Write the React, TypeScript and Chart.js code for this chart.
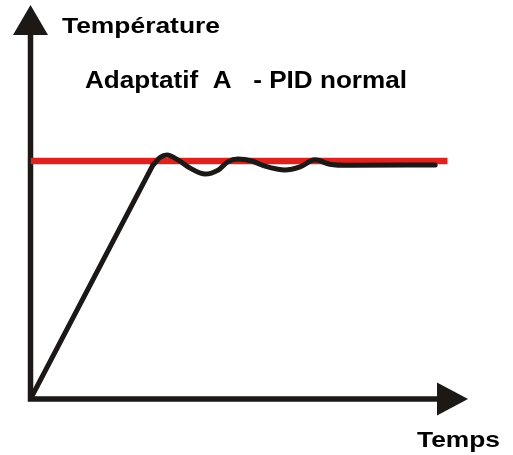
import React, { useEffect, useRef } from "react";
import { Chart, registerables } from "chart.js";

Chart.register(...registerables);

// Data (time units 0..100, temperature units 0..100)
const rampTimes = [0, 28.0];
const rampValues = [0, 59.4];
const responseTimes = [28.0, 29.6, 31.2, 33.7, 36.5, 39.9, 42.9, 45.1, 47.4, 50.6, 53.6, 58.2, 61.6, 65.0, 68.4, 73.0, 92.5];
const responseValues = [59.4, 61.3, 61.9, 60.7, 58.6, 57.1, 58.1, 60.2, 60.9, 60.4, 59.1, 58.1, 58.9, 60.7, 59.6, 59.3, 59.4];
const setpointTimes = [0, 95.3];
const setpointValues = [60.4, 60.4];

const yAxisLabel = "Température";
const xAxisLabel = "Temps";
const chartTitle = "Adaptatif  A   - PID normal";

const INK = "#1b1816";

function drawFitted(ctx: CanvasRenderingContext2D, text: string, x: number, baseline: number, size: number, width: number) {
  ctx.save();
  ctx.font = `bold ${size}px "Liberation Sans", Arial, sans-serif`;
  ctx.fillStyle = "#000";
  ctx.textBaseline = "alphabetic";
  ctx.textAlign = "left";
  const w = ctx.measureText(text).width;
  const sx = width / w;
  ctx.translate(x, baseline);
  ctx.scale(sx, 1);
  ctx.fillText(text, 0, 0);
  ctx.restore();
}

const axesPlugin = {
  id: "arrowAxes",
  beforeDatasetsDraw(chart: any) {
    const ctx = chart.ctx as CanvasRenderingContext2D;
    const xs = chart.scales.x;
    const ys = chart.scales.y;
    const x0 = xs.getPixelForValue(0);
    const x1 = xs.getPixelForValue(100);
    const y0 = ys.getPixelForValue(0);
    const y1 = ys.getPixelForValue(100);
    ctx.save();
    ctx.strokeStyle = INK;
    ctx.fillStyle = INK;
    ctx.lineWidth = 5.5;
    ctx.lineCap = "square";
    ctx.beginPath();
    ctx.moveTo(x0, y1 + 20);
    ctx.lineTo(x0, y0);
    ctx.lineTo(x1 - 20, y0);
    ctx.stroke();
    // Y arrow
    ctx.beginPath();
    ctx.moveTo(x0, y1);
    ctx.lineTo(x0 - 17.5, y1 + 30);
    ctx.lineTo(x0 + 17.5, y1 + 30);
    ctx.closePath();
    ctx.fill();
    // X arrow
    ctx.beginPath();
    ctx.moveTo(x1, y0);
    ctx.lineTo(x1 - 31, y0 - 16.5);
    ctx.lineTo(x1 - 31, y0 + 16.5);
    ctx.closePath();
    ctx.fill();
    ctx.restore();
  },
  afterDraw(chart: any) {
    const ctx = chart.ctx as CanvasRenderingContext2D;
    drawFitted(ctx, yAxisLabel, 62, 33, 22, 158);
    drawFitted(ctx, chartTitle, 85, 88, 23, 322);
    drawFitted(ctx, xAxisLabel, 417, 447, 22, 83);
  },
};

export default function App() {
  const ref = useRef<HTMLCanvasElement | null>(null);
  useEffect(() => {
    document.body.style.margin = "0";
    if (!ref.current) return;
    const chart = new Chart(ref.current, {
      type: "line",
      data: {
        datasets: [
          {
            label: "Température",
            data: responseTimes.map((t, i) => ({ x: t, y: responseValues[i] })),
            borderColor: INK,
            borderWidth: 5,
            pointRadius: 0,
            cubicInterpolationMode: "monotone",
            borderCapStyle: "round",
            borderJoinStyle: "round",
            order: 0,
          },
          {
            label: "Montée",
            data: rampTimes.map((t, i) => ({ x: t, y: rampValues[i] })),
            borderColor: INK,
            borderWidth: 5,
            pointRadius: 0,
            tension: 0,
            borderCapStyle: "round",
            order: 0,
          },
          {
            label: "Consigne",
            data: setpointTimes.map((t, i) => ({ x: t, y: setpointValues[i] })),
            borderColor: "#dc2320",
            borderWidth: 6.5,
            pointRadius: 0,
            order: 1,
          },
        ],
      },
      plugins: [axesPlugin],
      options: {
        responsive: false,
        animation: false,
        layout: { padding: { left: 30.5, right: 45, top: 5, bottom: 56 } },
        plugins: { legend: { display: false }, tooltip: { enabled: false }, title: { display: false } },
        scales: {
          x: { type: "linear", min: 0, max: 100, display: false },
          y: { type: "linear", min: 0, max: 100, display: false },
        },
      },
    } as any);
    return () => chart.destroy();
  }, []);
  return <canvas ref={ref} width={513} height={455} style={{ display: "block" }} />;
}
